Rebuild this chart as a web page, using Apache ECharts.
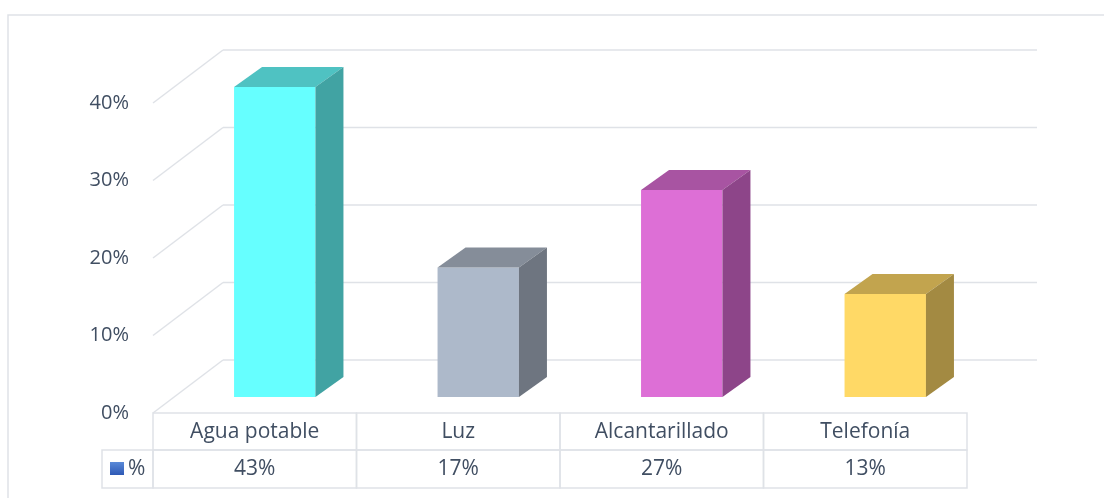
<!DOCTYPE html>
<html>
<head>
<meta charset="utf-8">
<script src="https://cdn.jsdelivr.net/npm/echarts@6/dist/echarts.min.js"></script>
<style>
html, body { margin: 0; padding: 0; background: #fff; }
#main { width: 1104px; height: 498px; }
</style>
</head>
<body>
<div id="main"></div>
<script>
// data
const categories = ['Agua potable', 'Luz', 'Alcantarillado', 'Telefonía'];
const values = [0.433, 0.167, 0.267, 0.133];
const valueLabels = ['43%', '17%', '27%', '13%'];
const yTicks = [0, 0.1, 0.2, 0.3, 0.4];
const seriesName = '%';

const Y_MAX = 0.4;
const frontColors = ['#66FFFF', '#ADB9CA', '#DD6FD6', '#FFD966'];
const topColors = ['#4FC2C2', '#858D99', '#A854A2', '#C2A44E'];
const sideColors = ['#41A3A3', '#6E7580', '#8D4589', '#A38A42'];
const textColor = '#404E62';
const lineColor = '#DFE2E7';
const fontFamily = '"Open Sans", sans-serif';
const fontSize = 21;

// 3d look: back wall offset, bar face offset and bar depth
const WALL = { x: 70, y: -53 };
const FACE = { x: 20, y: -16 };
const DEPTH = { x: 28, y: -20 };

const chart = echarts.init(document.getElementById('main'));

function renderWall(params, api) {
    const cs = params.coordSys;
    const y = api.coord([0, api.value(1)])[1];
    const left = cs.x;
    const right = cs.x + cs.width;
    return {
        type: 'group',
        children: [{
            type: 'line',
            shape: { x1: left, y1: y, x2: left + WALL.x, y2: y + WALL.y },
            style: { stroke: lineColor, lineWidth: 1.5 }
        }, {
            type: 'line',
            shape: { x1: left + WALL.x, y1: y + WALL.y, x2: right + WALL.x, y2: y + WALL.y },
            style: { stroke: lineColor, lineWidth: 1.5 }
        }]
    };
}

function renderBar(params, api) {
    const i = api.value(0);
    const top = api.coord([i, Math.min(api.value(1), Y_MAX)]);
    const base = api.coord([i, 0]);
    const band = api.size([1, 0])[0];
    const w = band * 0.4;
    const x0 = top[0] + FACE.x - w / 2;
    const x1 = x0 + w;
    const yT = top[1] + FACE.y;
    const yB = base[1] + FACE.y;
    return {
        type: 'group',
        children: [{
            type: 'rect',
            shape: { x: x0, y: yT, width: w, height: yB - yT },
            style: { fill: frontColors[i] }
        }, {
            type: 'polygon',
            shape: { points: [[x0, yT], [x1, yT], [x1 + DEPTH.x, yT + DEPTH.y], [x0 + DEPTH.x, yT + DEPTH.y]] },
            style: { fill: topColors[i] }
        }, {
            type: 'polygon',
            shape: { points: [[x1, yT], [x1 + DEPTH.x, yT + DEPTH.y], [x1 + DEPTH.x, yB + DEPTH.y], [x1, yB]] },
            style: { fill: sideColors[i] }
        }]
    };
}

function renderTable(params, api) {
    const i = api.value(0);
    const c = api.coord([i, 0]);
    const band = api.size([1, 0])[0];
    const left = c[0] - band / 2;
    const y0 = c[1];
    const h1 = 37, h2 = 38;
    const cellStyle = { fill: 'none', stroke: lineColor, lineWidth: 1.5 };
    const children = [{
        type: 'rect',
        shape: { x: left, y: y0, width: band, height: h1 },
        style: cellStyle
    }, {
        type: 'rect',
        shape: { x: left, y: y0 + h1, width: band, height: h2 },
        style: cellStyle
    }, {
        type: 'text',
        style: {
            text: categories[i], x: c[0], y: y0 + h1 / 2 + 1,
            align: 'center', verticalAlign: 'middle',
            fill: textColor, fontSize: fontSize, fontFamily: fontFamily
        }
    }, {
        type: 'text',
        style: {
            text: valueLabels[i], x: c[0], y: y0 + h1 + h2 / 2,
            align: 'center', verticalAlign: 'middle',
            fill: textColor, fontSize: fontSize, fontFamily: fontFamily
        }
    }];
    if (i === 0) {
        const kw = 51;
        children.push({
            type: 'rect',
            shape: { x: left - kw, y: y0 + h1, width: kw, height: h2 },
            style: cellStyle
        }, {
            type: 'rect',
            shape: { x: left - kw + 8, y: y0 + h1 + 12, width: 14, height: 13 },
            style: {
                fill: new echarts.graphic.LinearGradient(0, 0, 0, 1, [
                    { offset: 0, color: '#5A8AD8' },
                    { offset: 1, color: '#2E59B5' }
                ])
            }
        }, {
            type: 'text',
            style: {
                text: seriesName, x: left - kw + 26, y: y0 + h1 + h2 / 2,
                align: 'left', verticalAlign: 'middle',
                fill: textColor, fontSize: fontSize, fontFamily: fontFamily
            }
        });
    }
    return { type: 'group', children: children };
}

const option = {
    animation: false,
    backgroundColor: '#fff',
    textStyle: { fontFamily: fontFamily },
    graphic: [{
        type: 'rect',
        shape: { x: 8, y: 15, width: 1200, height: 600 },
        style: { fill: 'none', stroke: lineColor, lineWidth: 1.5 },
        silent: true
    }],
    grid: { left: 153, right: 137, top: 103, bottom: 85 },
    xAxis: {
        type: 'category',
        data: categories,
        axisLabel: { show: false },
        axisLine: { show: false },
        axisTick: { show: false },
        splitLine: { show: false }
    },
    yAxis: {
        type: 'value',
        min: 0,
        max: Y_MAX,
        interval: 0.1,
        axisLabel: {
            margin: 24,
            color: textColor,
            fontSize: 20,
            formatter: v => Math.round(v * 100) + '%'
        },
        axisLine: { show: false },
        axisTick: { show: false },
        splitLine: { show: false }
    },
    series: [{
        type: 'custom',
        name: 'wall',
        z: 1,
        silent: true,
        renderItem: renderWall,
        data: yTicks.map(t => [0, t])
    }, {
        type: 'custom',
        name: 'table',
        z: 2,
        silent: true,
        renderItem: renderTable,
        data: categories.map((c, i) => [i, 0])
    }, {
        type: 'custom',
        name: seriesName,
        z: 3,
        renderItem: renderBar,
        data: values.map((v, i) => [i, v])
    }]
};

chart.setOption(option);
</script>
</body>
</html>
